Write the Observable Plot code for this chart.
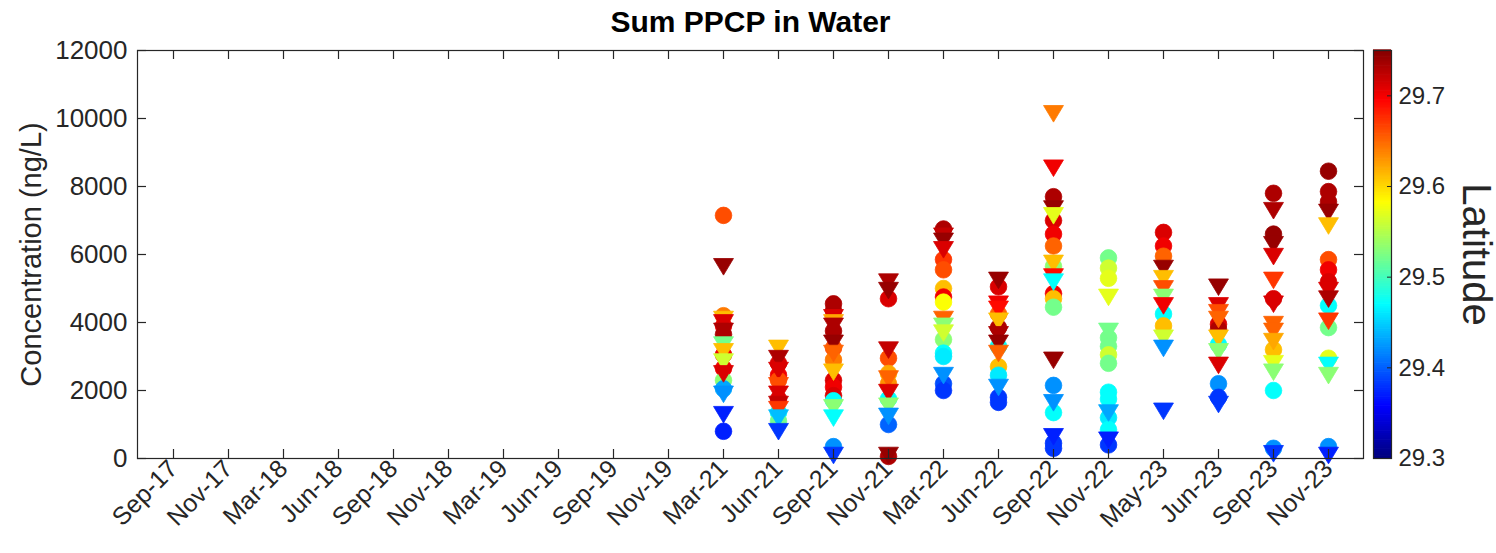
<!DOCTYPE html>
<html>
<head>
<meta charset="utf-8">
<script src="https://cdn.jsdelivr.net/npm/d3@7"></script>
<script src="https://cdn.jsdelivr.net/npm/@observablehq/plot@0.6"></script>
<style>
  html, body { margin: 0; padding: 0; background: #fff; }
  #wrap { position: relative; width: 1496px; height: 553px; background: #fff; color: #262626;
          font-family: "Liberation Sans", Arial, Helvetica, sans-serif; }
  #main { position: absolute; left: 0; top: 0; }
  #cbar { position: absolute; left: 1372px; top: 0; }
</style>
</head>
<body>
<div id="wrap"><div id="main"></div><div id="cbar"></div></div>
<script>
// ---- categories / ticks ----
const months = ["Sep-17","Nov-17","Mar-18","Jun-18","Sep-18","Nov-18","Mar-19","Jun-19","Sep-19","Nov-19",
                "Mar-21","Jun-21","Sep-21","Nov-21","Mar-22","Jun-22","Sep-22","Nov-22","May-23","Jun-23","Sep-23","Nov-23"];
const yTicks = [0, 2000, 4000, 6000, 8000, 10000, 12000];
const latTicks = [29.3, 29.4, 29.5, 29.6, 29.7];
const latStops = [29.3, 29.35625, 29.46875, 29.58125, 29.69375, 29.75];
const jetColors = ["#000080", "#0000ff", "#00ffff", "#ffff00", "#ff0000", "#800000"];

// ---- samples per month: [concentration ng/L, latitude, marker ("o" circle, "v" triangle)] ----
const mar21 = [[7150,29.66,"o"],[5650,29.74,"v"],[4200,29.64,"o"],[4100,29.61,"v"],[4000,29.71,"v"],[3900,29.70,"o"],
  [3750,29.73,"v"],[3650,29.73,"o"],[3350,29.52,"v"],[3150,29.61,"v"],[3050,29.70,"o"],[2850,29.56,"v"],[2650,29.70,"o"],
  [2500,29.71,"v"],[2300,29.53,"o"],[2050,29.43,"o"],[1900,29.42,"v"],[1300,29.37,"v"],[800,29.37,"o"]];
const jun21 = [[3250,29.61,"v"],[2950,29.73,"v"],[2800,29.71,"o"],[2600,29.71,"v"],[2450,29.70,"o"],[2300,29.66,"o"],
  [2150,29.66,"v"],[1900,29.71,"v"],[1750,29.71,"o"],[1600,29.72,"v"],[1450,29.67,"v"],[1350,29.47,"o"],[1200,29.44,"v"],
  [1100,29.52,"o"],[800,29.38,"v"]];
const sep21 = [[4550,29.73,"o"],[4350,29.73,"o"],[4150,29.71,"v"],[4000,29.62,"v"],[3900,29.73,"v"],[3750,29.73,"o"],
  [3400,29.74,"v"],[3250,29.66,"o"],[3100,29.65,"v"],[2900,29.64,"o"],[2550,29.61,"v"],[2300,29.71,"o"],[2100,29.70,"o"],
  [1850,29.71,"o"],[1700,29.47,"o"],[1500,29.53,"v"],[1200,29.47,"v"],[350,29.42,"o"],[100,29.38,"v"]];
const nov21 = [[5200,29.73,"v"],[4950,29.74,"v"],[4700,29.71,"o"],[3200,29.72,"v"],[2950,29.66,"o"],[2500,29.62,"o"],
  [2350,29.65,"v"],[2200,29.63,"o"],[1950,29.71,"v"],[1750,29.47,"o"],[1550,29.53,"v"],[1250,29.42,"v"],[1000,29.40,"o"],
  [100,29.74,"v"],[60,29.73,"o"]];
const mar22 = [[6750,29.73,"o"],[6550,29.72,"v"],[6400,29.74,"v"],[6150,29.71,"v"],[5850,29.67,"o"],[5550,29.66,"o"],
  [5000,29.61,"o"],[4750,29.70,"o"],[4600,29.58,"o"],[4100,29.65,"v"],[3900,29.53,"v"],[3700,29.56,"v"],[3500,29.53,"o"],
  [3100,29.47,"o"],[3000,29.46,"o"],[2450,29.42,"v"],[2200,29.39,"o"],[2000,29.38,"o"]];
const jun22 = [[5250,29.74,"v"],[5050,29.71,"o"],[4550,29.70,"v"],[4400,29.69,"v"],[4250,29.65,"o"],[4050,29.61,"v"],
  [3850,29.73,"o"],[3650,29.73,"v"],[3400,29.74,"v"],[3300,29.47,"o"],[3100,29.65,"v"],[2700,29.61,"o"],[2450,29.46,"o"],
  [2100,29.42,"v"],[1800,29.38,"o"],[1650,29.38,"o"]];
const sep22 = [[10150,29.64,"v"],[8550,29.70,"v"],[7700,29.73,"o"],[7350,29.74,"v"],[7150,29.57,"v"],[7000,29.71,"o"],
  [6600,29.70,"o"],[6250,29.65,"o"],[5750,29.61,"v"],[5650,29.53,"o"],[5350,29.69,"v"],[5200,29.47,"v"],[4850,29.70,"o"],
  [4700,29.61,"o"],[4450,29.52,"o"],[2900,29.74,"v"],[2150,29.42,"o"],[1650,29.42,"v"],[1350,29.47,"o"],[650,29.37,"v"],
  [450,29.38,"o"],[300,29.38,"o"]];
const nov22 = [[5900,29.52,"o"],[5600,29.56,"o"],[5300,29.57,"o"],[4750,29.57,"v"],[3750,29.52,"v"],[3550,29.52,"o"],
  [3300,29.52,"o"],[3050,29.56,"o"],[2800,29.52,"o"],[1950,29.47,"o"],[1750,29.47,"o"],[1350,29.43,"v"],[1200,29.46,"o"],
  [850,29.47,"o"],[550,29.37,"v"],[400,29.38,"o"]];
const may23 = [[6650,29.71,"o"],[6250,29.70,"o"],[5950,29.65,"o"],[5600,29.74,"v"],[5300,29.61,"v"],[5000,29.66,"v"],
  [4750,29.53,"v"],[4500,29.70,"v"],[4250,29.47,"o"],[3900,29.61,"o"],[3550,29.56,"v"],[3250,29.42,"v"],[1400,29.38,"v"]];
const jun23 = [[5050,29.74,"v"],[4500,29.71,"v"],[4300,29.66,"v"],[4100,29.65,"v"],[3950,29.71,"o"],[3800,29.73,"o"],
  [3550,29.61,"v"],[3350,29.47,"o"],[3150,29.53,"v"],[2750,29.71,"v"],[2200,29.42,"o"],[1800,29.38,"o"],[1600,29.38,"v"]];
const sep23 = [[7800,29.73,"o"],[7300,29.73,"v"],[6600,29.74,"o"],[6300,29.74,"v"],[5950,29.71,"v"],[5250,29.67,"v"],
  [4700,29.71,"o"],[4550,29.71,"v"],[3950,29.65,"v"],[3750,29.65,"v"],[3450,29.62,"v"],[3200,29.61,"o"],[2800,29.57,"v"],
  [2550,29.53,"v"],[2000,29.47,"o"],[300,29.42,"o"],[150,29.38,"v"]];
const nov23 = [[8450,29.74,"o"],[7850,29.73,"o"],[7550,29.73,"o"],[7250,29.74,"v"],[6850,29.61,"v"],[5850,29.66,"o"],
  [5550,29.70,"o"],[5200,29.71,"o"],[4950,29.71,"v"],[4700,29.73,"v"],[4500,29.47,"o"],[4050,29.67,"v"],[3850,29.52,"o"],
  [2950,29.57,"o"],[2750,29.47,"v"],[2450,29.53,"v"],[350,29.42,"o"],[100,29.37,"v"]];

const groups = [["Mar-21",mar21],["Jun-21",jun21],["Sep-21",sep21],["Nov-21",nov21],["Mar-22",mar22],["Jun-22",jun22],
  ["Sep-22",sep22],["Nov-22",nov22],["May-23",may23],["Jun-23",jun23],["Sep-23",sep23],["Nov-23",nov23]];
const samples = groups.flatMap(([month, arr]) => arr.map(([value, lat, shape]) => ({month, value, lat, shape})));

// ---- styling ----
const ink = "#262626";
const font = '"Liberation Sans", Arial, Helvetica, sans-serif';
const colorOpts = {type: "linear", domain: latStops, range: jetColors, interpolate: "rgb", clamp: true};
const triDown = {
  draw(ctx, size) {
    const r = Math.sqrt(size / Math.PI);
    ctx.moveTo(-1.2 * r, -0.95 * r);
    ctx.lineTo(1.2 * r, -0.95 * r);
    ctx.lineTo(0, 1.05 * r);
    ctx.closePath();
  }
};

const W = 1366, H = 553, mL = 137, mR = 3, mT = 50, mB = 95;
const plotW = W - mL - mR, plotH = H - mT - mB;

const main = Plot.plot({
  width: W, height: H, marginLeft: mL, marginRight: mR, marginTop: mT, marginBottom: mB,
  style: {fontFamily: font, color: ink, background: "white", overflow: "visible"},
  x: {type: "point", domain: months, padding: 0.5, axis: null, label: null},
  y: {domain: [0, 12000], axis: null, label: null},
  color: colorOpts,
  marks: [
    Plot.dot(samples.filter(d => d.shape === "o"), {x: "month", y: "value", r: 8.3, symbol: "circle", fill: "lat", stroke: "lat", strokeWidth: 0.8}),
    Plot.dot(samples.filter(d => d.shape === "v"), {x: "month", y: "value", r: 8.3, symbol: triDown, fill: "lat", stroke: "lat", strokeWidth: 0.8}),
    Plot.frame({stroke: ink, strokeWidth: 1.2}),
    Plot.ruleX(months, {x: d => d, insetTop: plotH - 9, stroke: ink, strokeWidth: 1.2}),
    Plot.ruleX(months, {x: d => d, insetBottom: plotH - 9, stroke: ink, strokeWidth: 1.2}),
    Plot.ruleY(yTicks, {y: d => d, insetRight: plotW - 9, stroke: ink, strokeWidth: 1.2}),
    Plot.ruleY(yTicks, {y: d => d, insetLeft: plotW - 9, stroke: ink, strokeWidth: 1.2}),
    Plot.axisX(months, {anchor: "bottom", tickSize: 0, tickPadding: 6, tickRotate: -45, fontSize: 25, label: null}),
    Plot.axisY(yTicks, {anchor: "left", tickSize: 0, tickPadding: 10, tickFormat: d => String(d), fontSize: 26, label: null}),
    Plot.text(["Sum PPCP in Water"], {text: d => d, frameAnchor: "top", dy: -28, fontSize: 30, fontWeight: "bold", fill: "black", lineAnchor: "middle", textAnchor: "middle"}),
    Plot.text(["Concentration (ng/L)"], {text: d => d, frameAnchor: "left", rotate: -90, dx: -106, fontSize: 29, lineAnchor: "middle", textAnchor: "middle"})
  ]
});
document.getElementById("main").append(main);

// ---- colorbar ----
const step = 0.0025;
const latCells = d3.range(0, Math.round((29.75 - 29.3) / step)).map(i => 29.3 + i * step);
const cbar = Plot.plot({
  width: 124, height: H, marginLeft: 1, marginRight: 105, marginTop: mT, marginBottom: mB,
  style: {fontFamily: font, color: ink, background: "transparent", overflow: "visible"},
  x: {domain: [0, 1], axis: null},
  y: {domain: [29.3, 29.75], axis: null},
  color: colorOpts,
  marks: [
    Plot.rect(latCells, {x1: 0, x2: 1, y1: d => d, y2: d => d + step * 1.3, fill: d => d}),
    Plot.frame({stroke: ink, strokeWidth: 1.2}),
    Plot.ruleY(latTicks, {y: d => d, insetLeft: 14, stroke: ink, strokeWidth: 1}),
    Plot.axisY(latTicks, {anchor: "right", tickSize: 0, tickPadding: 7, tickFormat: d => d.toFixed(1), fontSize: 24, label: null}),
    Plot.text(["Latitude"], {text: d => d, frameAnchor: "right", rotate: 90, dx: 84, fontSize: 40, lineAnchor: "middle", textAnchor: "middle"})
  ]
});
document.getElementById("cbar").append(cbar);
</script>
</body>
</html>
